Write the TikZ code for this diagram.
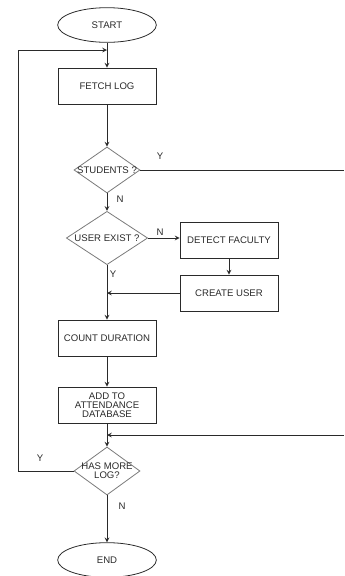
\documentclass[tikz,border=0pt]{standalone}
\usepackage{fontspec}
\setmainfont{Liberation Sans}
\usetikzlibrary{shapes.geometric}
\definecolor{linegray}{HTML}{2A2A2A}
\definecolor{diagray}{HTML}{7A7A7A}
\tikzset{
  terminal/.style={draw=linegray,ellipse,minimum width=74pt,minimum height=26pt,inner sep=0pt},
  process/.style={draw=linegray,rectangle,minimum width=73.5pt,minimum height=27pt,inner sep=0pt,align=center},
  decision/.style={draw=diagray,diamond,inner sep=0pt},
  flow/.style={->,draw=linegray},
  plain/.style={draw=linegray},
  tag/.style={inner sep=0pt,text=linegray}
}
\begin{document}
\begin{tikzpicture}[>=stealth,x=0.75pt,y=-0.75pt,line width=0.6pt,
    every node/.append style={font=\fontsize{7.2}{6.6}\selectfont,text=linegray}]
      \useasboundingbox (0,0) rectangle (344,576);
      % main column
      \node [terminal] (start) at (107,25) {START};
      \node [process] (fetch) at (107,86) {FETCH LOG};
      \node [decision,minimum width=49.5pt,minimum height=34.5pt,label=center:{STUDENTS ?}] (students) at (107,170) {};
      \node [decision,minimum width=61pt,minimum height=40pt,label=center:{USER EXIST ?}] (exist) at (107,238) {};
      \node [process] (detect) at (229,240) {DETECT FACULTY};
      \node [process] (create) at (229,293) {CREATE USER};
      \node [process] (count) at (107,338) {COUNT DURATION};
      \node [process] (add) at (107,405) {ADD TO\\ATTENDANCE\\DATABASE};
      \node [decision,minimum width=49.5pt,minimum height=36pt,label={[align=center]center:HAS MORE\\LOG?}] (more) at (107,471) {};
      \node [terminal] (end) at (107,560) {END};
      % helper points
      \coordinate (loop) at (18,50);
      \coordinate (right1) at (344,170);
      \coordinate (right2) at (344,435);
      % connectors
      \draw [flow] (start) -- (fetch);
      \draw [flow] (loop) -- (start.south |- loop);
      \draw [flow] (fetch) -- (students.north);
      \draw [plain] (students.east) -- (right1);
      \draw [flow] (students.south) -- (exist.north);
      \draw [flow] (exist.east) -- (exist.east -| detect.west);
      \draw [flow] (detect) -- (create);
      \draw [flow] (create.west) -- (create.west -| exist.south);
      \draw [flow] (exist.south) -- (count);
      \draw [flow] (count) -- (add);
      \draw [flow] (right2) -- (right2 -| add.south);
      \draw [flow] (add) -- (more.north);
      \draw [plain] (more.west) -| (loop);
      \draw [flow] (more.south) -- (end);
      % branch labels
      \node [tag] (ystud) at (160,156) {Y};
      \node [tag] (nstud) at (120,199) {N};
      \node [tag] (nexist) at (160,232) {N};
      \node [tag] (yexist) at (113,274) {Y};
      \node [tag] (ymore) at (40,458) {Y};
      \node [tag] (nmore) at (122,506) {N};
\end{tikzpicture}
\end{document}
